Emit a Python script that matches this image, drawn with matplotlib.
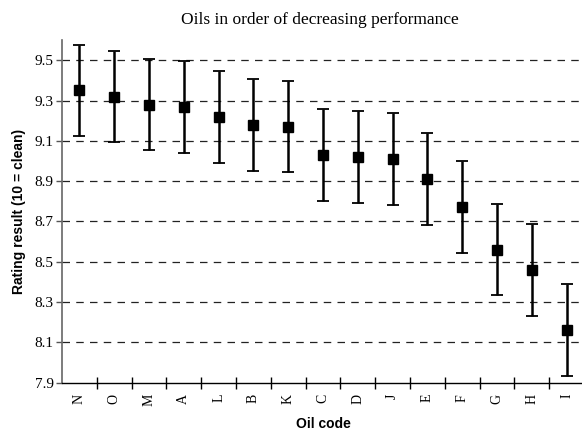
import matplotlib
matplotlib.use("Agg")
import matplotlib.pyplot as plt
from matplotlib.ticker import FixedLocator, NullFormatter

oil_codes = ["N", "O", "M", "A", "L", "B", "K", "C", "D", "J", "E", "F", "G", "H", "I"]
rating_mean = [9.35, 9.32, 9.28, 9.27, 9.22, 9.18, 9.17, 9.03, 9.02, 9.01, 8.91, 8.77, 8.56, 8.46, 8.16]
rating_err = [0.227, 0.228, 0.227, 0.228, 0.228, 0.228, 0.227, 0.228, 0.228, 0.228, 0.228, 0.228, 0.227, 0.228, 0.228]
y_ticks = [7.9, 8.1, 8.3, 8.5, 8.7, 8.9, 9.1, 9.3, 9.5]

serif = "Liberation Serif"
sans = "Liberation Sans"

fig = plt.figure(figsize=(5.82, 4.37), dpi=100)
ax = fig.add_axes([0.1065, 0.1243, 0.897, 0.784])

xs = [i + 0.5 for i in range(len(oil_codes))]
ax.errorbar(xs, rating_mean, yerr=rating_err, fmt="s", color="black",
            markersize=7.5, elinewidth=1.8, capsize=4.0, capthick=1.3, zorder=3)

ax.set_xlim(0, len(oil_codes))
ax.set_ylim(7.9, 9.6)

# category labels at centres, tick marks at the boundaries
ax.set_xticks(xs)
ax.set_xticklabels(oil_codes, rotation=90, fontfamily=serif, fontsize=10)
ax.tick_params(axis="x", which="major", length=0, pad=8)
ax.xaxis.set_minor_locator(FixedLocator(list(range(1, len(oil_codes)))))
ax.xaxis.set_minor_formatter(NullFormatter())
ax.tick_params(axis="x", which="minor", direction="inout", length=8, width=1.0)

ax.set_yticks(y_ticks)
ax.set_yticklabels([f"{v:.1f}" for v in y_ticks], fontfamily=serif, fontsize=11)
ax.tick_params(axis="y", direction="out", length=4, width=1.0, color="#555555", pad=2)

for v in y_ticks[1:]:
    ax.axhline(v, color="#222222", lw=0.9, dashes=(6, 5), zorder=1)

ax.spines["top"].set_visible(False)
ax.spines["right"].set_visible(False)
ax.spines["left"].set_color("#666666")
ax.spines["left"].set_linewidth(1.2)
ax.spines["bottom"].set_linewidth(1.0)

ax.set_xlabel("Oil code", fontfamily=sans, fontweight="bold", fontsize=10, labelpad=8)
ax.set_ylabel("Rating result (10 = clean)", fontfamily=sans, fontweight="bold",
              fontsize=10, labelpad=6)
fig.text(0.55, 0.954, "Oils in order of decreasing performance", ha="center",
         va="center", fontfamily=serif, fontsize=12.5)

fig.savefig("out.png", dpi=100)
